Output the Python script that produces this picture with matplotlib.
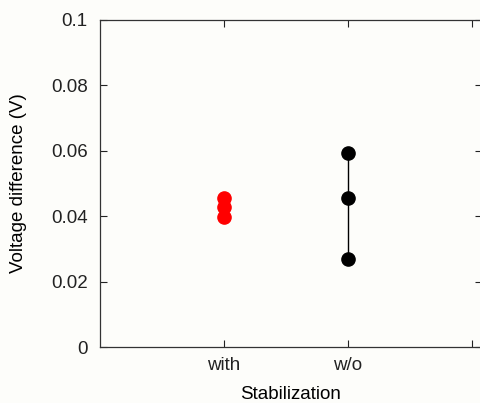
import numpy as np
import matplotlib
matplotlib.use("Agg")
import matplotlib.pyplot as plt
from matplotlib.ticker import FuncFormatter

# measured voltage difference (V) per condition
groups = ["with", "w/o"]
with_vals = [0.0457, 0.0427, 0.0397]
wo_vals = [0.0594, 0.0455, 0.0268]
tick_pos = [1, 2, 3]
tick_labels = ["with", "w/o", ""]
COL = {"with": "#ff0000", "w/o": "#000000"}

plt.rcParams["font.family"] = ["Liberation Sans", "DejaVu Sans"]
BG = "#fdfdfa"
FS = 13.5

fig = plt.figure(figsize=(4.8, 4.03), dpi=100, facecolor=BG)
ax = fig.add_axes([100 / 480, 1 - 347 / 403, 382 / 480, 327 / 403], facecolor=BG)

for i, (g, vals) in enumerate(zip(groups, [with_vals, wo_vals])):
    xs = np.full(len(vals), i + 1)
    ax.plot(xs, vals, color=COL[g], lw=1.0, zorder=2)
    ax.plot(xs, vals, "o", color=COL[g], ms=9.5, mec=COL[g], zorder=3)

ax.set_xlim(0, 3.08)
ax.set_ylim(0, 0.1)
ax.set_xticks(tick_pos)
ax.set_xticklabels(tick_labels)
ax.set_yticks(np.arange(0, 0.101, 0.02))
ax.yaxis.set_major_formatter(FuncFormatter(lambda v, p: f"{v:g}"))
ax.tick_params(direction="in", length=5, width=0.8, top=True, right=True,
               labelsize=FS, pad=7, colors="#222222")
ax.tick_params(axis="y", pad=9)
for s in ax.spines.values():
    s.set_linewidth(0.9)
    s.set_color("#333333")

ax.set_xlabel("Stabilization", fontsize=FS, labelpad=8.5)
ax.set_ylabel("Voltage difference (V)", fontsize=FS, labelpad=17)

fig.savefig("out.png", dpi=100, facecolor=BG)
